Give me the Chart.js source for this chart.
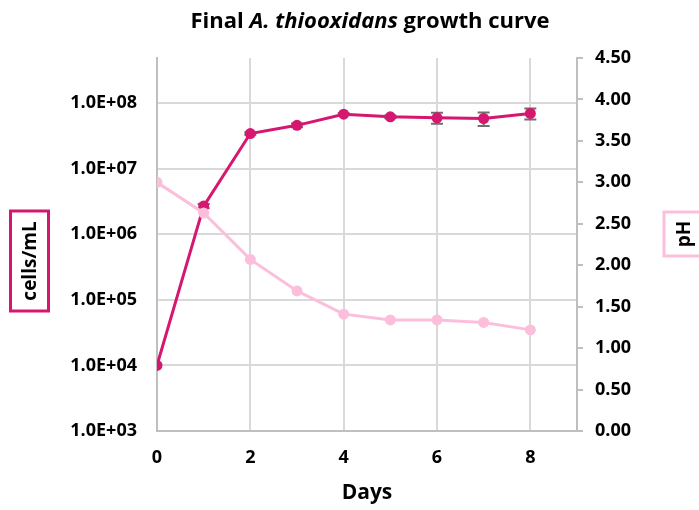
<!DOCTYPE html>
<html>
<head>
<meta charset="utf-8">
<script src="https://cdn.jsdelivr.net/npm/chart.js@4"></script>
<style>
  html,body{margin:0;padding:0;background:#fff;}
  #wrap{width:699px;height:510px;}
</style>
</head>
<body>
<div id="wrap"><canvas id="growth" width="699" height="510"></canvas></div>
<script>
// Growth curve data
const days = [0, 1, 2, 3, 4, 5, 6, 7, 8];
const cells = [1.0e4, 2.7e6, 3.45e7, 4.6e7, 6.8e7, 6.2e7, 6.0e7, 5.85e7, 7.0e7];
const cellsErr = [0, 2e5, 1.5e6, 3e6, 2.5e6, 3e6, 1.15e7, 1.35e7, 1.35e7];
const pH = [3.00, 2.63, 2.07, 1.69, 1.41, 1.34, 1.34, 1.31, 1.22];
const cellTicks = [1e3, 1e4, 1e5, 1e6, 1e7, 1e8];

const DARK = "#d6176f", LIGHT = "#fbbfdc";
const FONT = "'Open Sans', sans-serif";

const pts = arr => arr.map((v, i) => ({ x: days[i], y: v }));
const sci = v => {
  const e = Math.round(Math.log10(v));
  return (v / Math.pow(10, e)).toFixed(1) + "E+" + String(e).padStart(2, "0");
};

// title with italic species name, boxed axis titles, error bars
const extras = {
  id: "extras",
  beforeDatasetsDraw(chart) {
    const { ctx, scales } = chart;
    ctx.save();
    ctx.strokeStyle = "#6f6f6f";
    ctx.lineWidth = 2;
    cells.forEach((v, i) => {
      const e = cellsErr[i];
      if (!e) return;
      const x = scales.x.getPixelForValue(days[i]);
      const y1 = scales.y.getPixelForValue(v + e), y2 = scales.y.getPixelForValue(v - e);
      ctx.beginPath();
      ctx.moveTo(x, y1); ctx.lineTo(x, y2);
      ctx.moveTo(x - 6, y1); ctx.lineTo(x + 6, y1);
      ctx.moveTo(x - 6, y2); ctx.lineTo(x + 6, y2);
      ctx.stroke();
    });
    ctx.restore();
  },
  afterDraw(chart) {
    const { ctx } = chart;
    ctx.save();
    ctx.fillStyle = "#000";
    ctx.textBaseline = "middle";
    const parts = [["bold", "Final "], ["italic bold", "A. thiooxidans"], ["bold", " growth curve"]];
    const size = "22px " + FONT;
    let w = 0;
    parts.forEach(p => { ctx.font = p[0] + " " + size; w += ctx.measureText(p[1]).width; });
    let x = 370 - w / 2;
    ctx.textAlign = "left";
    parts.forEach(p => { ctx.font = p[0] + " " + size; ctx.fillText(p[1], x, 22); x += ctx.measureText(p[1]).width; });

    // boxed, rotated axis titles
    const boxed = (text, cx, cy, bw, bh, color) => {
      ctx.lineWidth = 3;
      ctx.strokeStyle = color;
      ctx.strokeRect(cx - bw / 2, cy - bh / 2, bw, bh);
      ctx.save();
      ctx.translate(cx, cy);
      ctx.rotate(-Math.PI / 2);
      ctx.textAlign = "center";
      ctx.font = "bold 19px " + FONT;
      ctx.fillStyle = "#000";
      ctx.fillText(text, 0, 1);
      ctx.restore();
    };
    boxed("cells/mL", 29.5, 261, 38, 100, DARK);
    boxed("pH", 684, 234, 40, 44, LIGHT);
    ctx.restore();
  }
};

new Chart(document.getElementById("growth"), {
  type: "line",
  data: {
    datasets: [
      { label: "pH", data: pts(pH), yAxisID: "y1", borderColor: LIGHT, backgroundColor: LIGHT,
        borderWidth: 3, pointRadius: 5.5, pointBorderWidth: 0, tension: 0 },
      { label: "cells/mL", data: pts(cells), yAxisID: "y", borderColor: DARK, backgroundColor: DARK,
        borderWidth: 3, pointRadius: 5.5, pointBorderWidth: 0, tension: 0 }
    ]
  },
  options: {
    responsive: false,
    animation: false,
    layout: { padding: { top: 58, left: 0, right: 0, bottom: 0 } },
    plugins: { legend: { display: false }, tooltip: { enabled: false } },
    scales: {
      x: {
        type: "linear", min: 0, max: 9,
        ticks: { stepSize: 2, includeBounds: false, padding: 16, color: "#000",
                 font: { family: FONT, size: 18, weight: "bold" } },
        grid: { color: "#d9d9d9", lineWidth: 2, drawTicks: false },
        border: { color: "#bfbfbf", width: 2 },
        title: { display: true, text: "Days", color: "#000", padding: { top: 18 },
                 font: { family: FONT, size: 21, weight: "bold" } },
        afterFit: s => { s.height = 79; }
      },
      y: {
        type: "logarithmic", position: "left", min: 1e3, max: 4.9e8,
        afterBuildTicks: s => { s.ticks = cellTicks.map(v => ({ value: v, major: true })); },
        ticks: { callback: v => sci(v), padding: 20, color: "#000",
                 font: { family: FONT, size: 18, weight: "bold" } },
        grid: { color: "#d9d9d9", lineWidth: 2, drawTicks: false },
        border: { color: "#bfbfbf", width: 2 },
        afterFit: s => { s.width = 157; }
      },
      y1: {
        position: "right", min: 0, max: 4.5,
        ticks: { stepSize: 0.5, callback: v => v.toFixed(2), padding: 12, color: "#000",
                 font: { family: FONT, size: 18, weight: "bold" } },
        grid: { drawOnChartArea: false, color: "#bfbfbf", lineWidth: 2, tickLength: 6 },
        border: { color: "#bfbfbf", width: 2 },
        afterFit: s => { s.width = 122; }
      }
    }
  },
  plugins: [extras]
});
</script>
</body>
</html>
